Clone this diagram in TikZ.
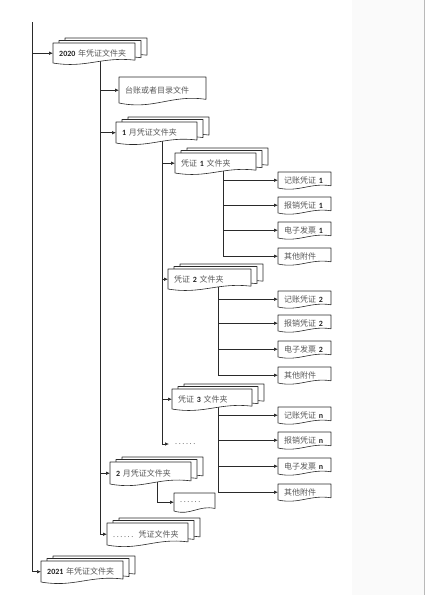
\documentclass[tikz,border=0pt]{standalone}
\usepackage{fontspec}
\setmainfont{Carlito}
\newfontfamily\cjk{Noto Sans CJK SC}
\usetikzlibrary{arrows.meta,backgrounds}
\definecolor{linec}{HTML}{2A2A2A}
\definecolor{zhc}{HTML}{5A5A5A}
\definecolor{numc}{HTML}{222222}
\definecolor{panelc}{HTML}{FAFAFA}
\newcommand\zh[1]{{\cjk\color{zhc}#1}}
\newcommand\nm[1]{{\bfseries\color{numc}#1}}
\newcommand\sixdots{{\color{zhc}.\kern1.6pt.\kern1.6pt.\kern1.6pt.\kern1.6pt.\kern1.6pt.}}
\tikzset{
  boxline/.style={draw=linec, line width=0.6pt, fill=white, line join=round},
  docn/.style={anchor=north west, inner xsep=6pt, inner ysep=0pt, align=left,
    font=\fontsize{8}{9}\selectfont},
  arr/.style={draw=linec, line width=0.7pt, -{Latex[length=4pt,width=3.6pt]}},
  trunk/.style={draw=linec, line width=0.7pt}
}
% wavy document outline: x0, ytop, x1, ybottom (y grows downward)
\newcommand\dshape[4]{%
  \pgfmathsetmacro\qAx{#1}\pgfmathsetmacro\qAy{#2}%
  \pgfmathsetmacro\qBx{#3}\pgfmathsetmacro\qBy{#4}%
  \pgfmathsetmacro\qDw{\qBx-\qAx}\pgfmathsetmacro\qDh{\qBy-\qAy}%
  \draw[boxline] (\qAx,\qAy) -- (\qBx,\qAy) -- (\qBx,\qBy-0.14*\qDh)
    .. controls (\qAx+0.6*\qDw,\qBy-0.34*\qDh) and (\qAx+0.4*\qDw,\qBy+0.28*\qDh) .. (\qAx,\qBy) -- cycle;}
\newcommand\docbox[6]{%
  \dshape{#2}{#3}{#4}{#5}%
  \pgfmathsetmacro\qTw{#4-#2-12}\pgfmathsetmacro\qTh{#5-#3}%
  \node[docn, text width=\qTw pt, minimum height=\qTh pt] (#1) at (#2,#3) {#6};}
\newcommand\multidoc[6]{%
  \dshape{#2+12}{#3-5}{#4+12}{#5-5}%
  \dshape{#2+6}{#3-2.5}{#4+6}{#5-2.5}%
  \docbox{#1}{#2}{#3}{#4}{#5}{#6}}
\begin{document}
\begin{tikzpicture}[x=1pt,y=-1pt]
\useasboundingbox (0,0) rectangle (426,595);
\fill[panelc] (352,0) rectangle (424,595);
\draw[gray!55, line width=0.6pt] (424,0) -- (424,595);

% level 1
\multidoc{y2020}{53}{43}{135}{63}{\nm{2020} \zh{年凭证文件夹}}
\multidoc{y2021}{41}{561}{123}{582}{\nm{2021} \zh{年凭证文件夹}}
% level 2
\docbox{tz}{119}{77}{206}{103}{\zh{台账或者目录文件}}
\multidoc{m1}{116}{122}{197}{143}{\nm{1} \zh{月凭证文件夹}}
\multidoc{m2}{110}{462}{191}{484}{\nm{2} \zh{月凭证文件夹}}
\multidoc{mx}{107}{523}{188}{545}{\sixdots\ \ \zh{凭证文件夹}}
% level 3
\multidoc{p1}{175}{153}{256}{173}{\zh{凭证} \nm{1} \zh{文件夹}}
\multidoc{p2}{168}{269}{251}{289}{\zh{凭证} \nm{2} \zh{文件夹}}
\multidoc{p3}{172}{389}{252}{409}{\zh{凭证} \nm{3} \zh{文件夹}}
\node[docn, anchor=west, font=\fontsize{8}{9}\selectfont] (dA) at (169,444) {\sixdots};
\docbox{dB}{174}{493}{215}{511}{\sixdots}
% leaves
\docbox{a1}{278}{172}{331}{188}{\zh{记账凭证} \nm{1}}
\docbox{a2}{278}{197}{331}{213}{\zh{报销凭证} \nm{1}}
\docbox{a3}{278}{222}{331}{238}{\zh{电子发票} \nm{1}}
\docbox{a4}{278}{248}{331}{264}{\zh{其他附件}}
\docbox{b1}{278}{291}{331}{307}{\zh{记账凭证} \nm{2}}
\docbox{b2}{278}{315}{331}{331}{\zh{报销凭证} \nm{2}}
\docbox{b3}{278}{341}{331}{357}{\zh{电子发票} \nm{2}}
\docbox{b4}{278}{367}{331}{383}{\zh{其他附件}}
\docbox{c1}{278}{407}{331}{423}{\zh{记账凭证} \nm{n}}
\docbox{c2}{278}{432}{331}{448}{\zh{报销凭证} \nm{n}}
\docbox{c3}{278}{458}{331}{474}{\zh{电子发票} \nm{n}}
\docbox{c4}{278}{484}{331}{500}{\zh{其他附件}}

\coordinate (top) at (32,22);
\begin{scope}[on background layer]
  \draw[arr] (top) |- (y2021.west);
  \draw[arr] (top |- y2020.west) -- (y2020.west);
  \foreach \t in {tz,m1,m2,mx}
    \draw[arr] ([xshift=6pt,yshift=3pt]y2020.south) |- (\t.west);
  \foreach \t in {p1,p2,p3,dA}
    \draw[arr] ([xshift=5.5pt,yshift=3pt]m1.south) |- (\t.west);
  \foreach \t in {a1,a2,a3,a4}
    \draw[arr] ([xshift=7.5pt,yshift=3pt]p1.south) |- (\t.west);
  \foreach \t in {b1,b2,b3,b4}
    \draw[arr] ([xshift=8.5pt,yshift=3pt]p2.south) |- (\t.west);
  \foreach \t in {c1,c2,c3,c4}
    \draw[arr] ([xshift=6pt,yshift=3pt]p3.south) |- (\t.west);
  \draw[arr] ([xshift=6.5pt,yshift=3pt]m2.south) |- (dB.west);
\end{scope}
\end{tikzpicture}
\end{document}
